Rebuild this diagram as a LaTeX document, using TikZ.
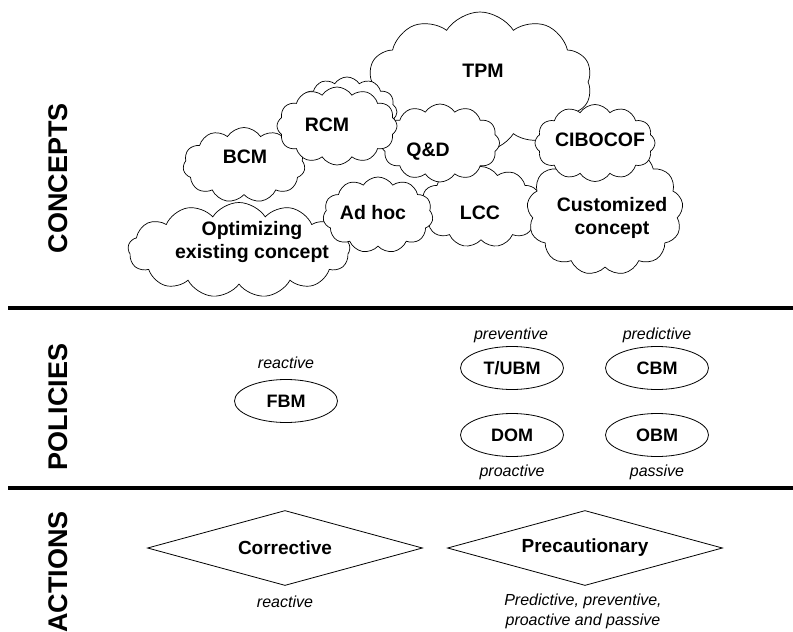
\documentclass[tikz,border=0pt]{standalone}
\usepackage{fontspec}
\setmainfont{Liberation Sans}
\usetikzlibrary{shapes.symbols,shapes.geometric}

\tikzset{
  cloudy/.style={cloud, cloud puffs=11, cloud puff arc=115, cloud ignores aspect, draw, fill=white, line width=0.7pt, inner sep=0pt},
  cloudtext/.style={font=\bfseries\fontsize{19.5}{22.5}\selectfont, align=center},
  section/.style={rotate=90, font=\bfseries\fontsize{27}{29}\selectfont},
  policy/.style={ellipse, draw, line width=0.8pt, minimum width=103pt, minimum height=43pt, inner sep=0pt, font=\bfseries\fontsize{18}{20}\selectfont},
  action/.style={diamond, aspect=3.67, draw, line width=0.8pt, minimum width=275pt, minimum height=75pt, inner sep=0pt, font=\bfseries\fontsize{19}{21}\selectfont},
  note/.style={font=\itshape\fontsize{16}{20}\selectfont, align=center},
  divider/.style={line width=4.5pt}
}

\begin{document}
\begin{tikzpicture}[x=1pt,y=-1pt]
\useasboundingbox (0,0) rectangle (793,632);

% section titles
\node[section] (concepts) at (58,178) {CONCEPTS};
\node[section] (policies) at (58,407) {POLICIES};
\node[section] (actions) at (58,572) {ACTIONS};

% dividers
\coordinate (d1a) at (8,308);
\coordinate (d1b) at (793,308);
\coordinate (d2a) at (8,488);
\coordinate (d2b) at (793,488);
\draw[divider] (d1a) -- (d1b);
\draw[divider] (d2a) -- (d2b);

% concept clouds, back to front
\node[cloudy, cloud puffs=10, minimum width=224pt, minimum height=140pt] (tpm) at (480,82) {};
\node[cloudy, minimum width=122pt, minimum height=81pt] (lcc) at (481,207) {};
\node[cloudy, cloud puffs=13, minimum width=156pt, minimum height=128pt] (cust) at (605,211) {};
\node[cloudy, cloud puffs=12, minimum width=120pt, minimum height=77pt] (cibocof) at (595,143) {};
\node[cloudy, cloud puffs=12, minimum width=119pt, minimum height=78pt] (qd) at (440,143) {};
\node[cloudy, minimum width=122pt, minimum height=75pt] (bcm) at (244,165) {};
\node[cloudy, cloud puffs=12, minimum width=100pt, minimum height=70pt] (rcmback) at (347,112) {};
\node[cloudy, cloud puffs=12, minimum width=120pt, minimum height=78pt] (rcm) at (337,126) {};
\node[cloudy, cloud puffs=13, minimum width=222pt, minimum height=95pt] (opt) at (239,250) {};
\node[cloudy, minimum width=110pt, minimum height=76pt] (adhoc) at (378,215) {};

% concept names
\node[cloudtext] (tpmt) at (483,71) {TPM};
\node[cloudtext] (lcct) at (480,213) {LCC};
\node[cloudtext] (custt) at (612,218) {Customized\\concept};
\node[cloudtext] (cibocoft) at (600,140) {CIBOCOF};
\node[cloudtext] (qdt) at (428,152) {Q\&D};
\node[cloudtext] (bcmt) at (245,157) {BCM};
\node[cloudtext] (rcmt) at (327,125) {RCM};
\node[cloudtext] (optt) at (252,242) {Optimizing\\existing concept};
\node[cloudtext] (adhoct) at (373,213) {Ad hoc};

% policies
\node[policy] (fbm) at (286,401) {FBM};
\node[policy] (tubm) at (512,368) {T/UBM};
\node[policy] (cbm) at (657,368) {CBM};
\node[policy] (dom) at (512,435) {DOM};
\node[policy] (obm) at (657,435) {OBM};
\node[note] (fbmn) at (286,363) {reactive};
\node[note] (tubmn) at (511,335) {preventive};
\node[note] (cbmn) at (657,335) {predictive};
\node[note] (domn) at (512,472) {proactive};
\node[note] (obmn) at (657,472) {passive};

% actions
\node[action] (corr) at (285,548) {Corrective};
\node[action] (prec) at (585,548) {Precautionary};
\node[note] (corrn) at (285,602) {reactive};
\node[note] (precn) at (583,611) {Predictive, preventive,\\proactive and passive};
\end{tikzpicture}
\end{document}
